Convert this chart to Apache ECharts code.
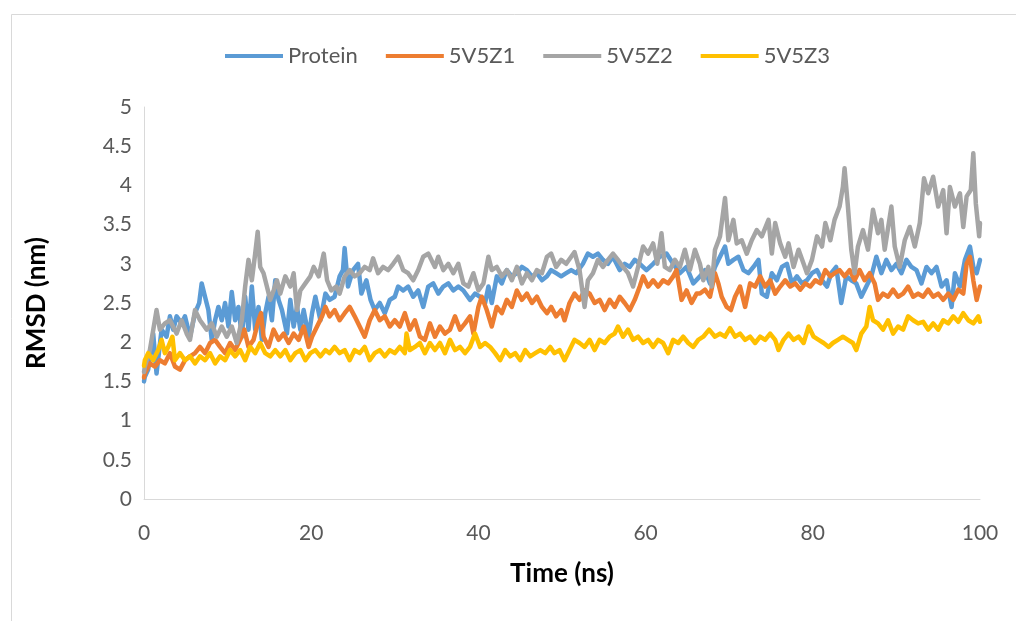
<!DOCTYPE html>
<html>
<head>
<meta charset="utf-8">
<script src="https://cdn.jsdelivr.net/npm/echarts@6/dist/echarts.min.js"></script>
<style>
html,body{margin:0;padding:0;background:#fff;}
#chart{width:1016px;height:621px;}
</style>
</head>
<body>
<div id="chart"></div>
<script>
const seriesNames = ['Protein', '5V5Z1', '5V5Z2', '5V5Z3'];
const seriesColors = ['#5B9BD5', '#ED7D31', '#A5A5A5', '#FFC000'];
const xTicks = [0, 20, 40, 60, 80, 100];

const protein = [[0,1.5],[0.1,1.56],[0.5,1.65],[1.1,2.11],[1.5,1.6],[2.1,2.16],[2.7,2.07],[3.1,2.33],[3.5,2.16],[3.9,2.33],[4.5,2.24],[4.9,2.33],[5.5,2.07],[6.1,2.37],[6.6,2.5],[6.9,2.75],[7.3,2.58],[7.7,2.41],[8.1,2.03],[8.5,2.28],[8.9,2.45],[9.3,2.28],[9.7,2.5],[10.1,2.2],[10.5,2.64],[10.9,2.28],[11.3,2.45],[11.7,2.07],[12.1,2.58],[12.5,2.16],[12.9,2.71],[13.3,2.16],[13.7,2.45],[14.1,2.03],[14.5,2.37],[14.9,2.58],[15.3,2.28],[15.7,2.79],[16.1,2.54],[16.5,2.41],[17.1,2.11],[17.5,2.54],[17.9,2.2],[18.3,2.45],[18.7,2.16],[19.1,2.41],[19.7,2.07],[20.1,2.37],[20.5,2.58],[21.1,2.28],[21.7,2.62],[22.2,2.54],[22.8,2.58],[23.4,2.84],[23.8,2.92],[24.0,3.2],[24.4,2.71],[25.0,2.92],[25.6,3.0],[26.0,2.62],[26.6,2.79],[27.1,2.54],[27.6,2.41],[28.2,2.5],[28.8,2.37],[29.4,2.54],[30.0,2.58],[30.4,2.71],[31.0,2.66],[31.6,2.71],[32.2,2.58],[32.8,2.66],[33.4,2.45],[34.0,2.71],[34.6,2.75],[35.2,2.62],[35.8,2.71],[36.4,2.75],[37.0,2.66],[37.6,2.71],[38.2,2.66],[39.0,2.54],[39.6,2.62],[40.2,2.58],[40.8,2.5],[41.2,2.71],[41.6,2.5],[42.2,2.84],[42.8,2.75],[43.4,2.92],[44.0,2.84],[44.6,2.88],[45.2,2.96],[45.8,2.92],[46.4,2.84],[47.0,2.88],[47.6,2.79],[48.2,2.84],[48.7,2.92],[49.3,2.88],[49.9,2.84],[50.5,2.88],[51.1,2.92],[51.7,2.88],[52.5,3.0],[53.1,3.13],[53.7,3.09],[54.3,3.13],[54.9,3.05],[55.5,3.0],[56.1,3.09],[56.9,2.92],[57.5,3.0],[58.1,2.96],[58.7,3.05],[59.3,3.0],[60.1,2.92],[60.9,3.0],[61.7,3.09],[62.5,3.13],[63.3,3.0],[64.1,2.88],[64.9,2.96],[65.7,2.75],[66.5,2.84],[67.1,2.92],[67.7,2.75],[68.3,2.96],[68.9,3.09],[69.5,3.22],[69.9,3.0],[70.5,3.05],[71.1,3.09],[71.7,2.92],[72.3,2.88],[72.9,2.96],[73.5,3.05],[73.9,2.62],[74.5,2.58],[75.1,2.88],[75.7,2.79],[76.3,2.96],[76.9,3.0],[77.5,2.75],[78.1,2.84],[78.7,2.75],[79.3,2.79],[79.9,2.88],[80.5,2.92],[81.1,2.79],[81.7,2.71],[82.2,2.88],[82.8,2.96],[83.4,2.5],[84.0,2.84],[84.6,2.79],[85.2,2.75],[85.8,2.58],[86.4,2.71],[87.0,2.84],[87.6,3.09],[88.2,2.88],[88.8,3.05],[89.4,2.92],[90.0,3.0],[90.6,2.88],[91.2,3.05],[91.8,2.96],[92.4,2.92],[93.0,2.75],[93.6,2.96],[94.2,2.88],[94.8,2.96],[95.4,2.71],[96.0,2.79],[96.6,2.45],[97.0,2.88],[97.6,2.71],[98.2,3.05],[98.8,3.22],[99.2,2.96],[99.6,2.88],[100,3.05]];

const z1 = [[0,1.55],[0.1,1.6],[0.7,1.73],[1.3,1.69],[1.9,1.77],[2.5,1.73],[3.1,1.86],[3.7,1.69],[4.3,1.65],[4.9,1.77],[5.5,1.82],[6.1,1.86],[6.7,1.94],[7.3,1.86],[7.9,1.99],[8.5,2.03],[9.1,1.94],[9.7,1.86],[10.3,1.99],[10.9,1.9],[11.5,2.03],[12.0,2.16],[12.5,1.94],[13.1,2.03],[13.7,2.28],[14.0,2.37],[14.3,2.07],[14.9,1.94],[15.5,2.16],[16.1,2.03],[16.7,2.11],[17.3,1.99],[17.9,2.11],[18.5,2.03],[19.1,2.2],[19.7,1.94],[20.1,2.07],[20.7,2.2],[21.3,2.33],[21.7,2.45],[22.2,2.33],[22.8,2.41],[23.4,2.28],[24.0,2.37],[24.6,2.45],[25.2,2.33],[25.8,2.2],[26.4,2.07],[27.0,2.28],[27.6,2.41],[28.2,2.28],[28.8,2.33],[29.4,2.2],[30.0,2.28],[30.6,2.2],[31.2,2.37],[31.8,2.16],[32.4,2.28],[33.0,2.07],[33.6,2.03],[34.2,2.24],[34.8,2.07],[35.4,2.2],[36.0,2.11],[36.6,2.16],[37.2,2.33],[37.8,2.16],[38.4,2.24],[39.0,2.33],[39.4,2.11],[40.0,2.45],[40.4,2.58],[41.0,2.41],[41.6,2.2],[42.2,2.45],[42.8,2.37],[43.4,2.54],[44.0,2.45],[44.6,2.66],[45.2,2.54],[45.8,2.62],[46.4,2.5],[47.0,2.58],[47.6,2.45],[48.2,2.37],[48.7,2.45],[49.3,2.33],[49.9,2.41],[50.3,2.28],[50.9,2.5],[51.5,2.62],[52.1,2.54],[52.7,2.66],[53.3,2.62],[53.9,2.5],[54.5,2.54],[55.1,2.41],[55.7,2.54],[56.3,2.45],[56.9,2.58],[57.5,2.5],[58.1,2.41],[58.7,2.54],[59.3,2.71],[59.7,2.84],[60.3,2.71],[60.9,2.79],[61.5,2.71],[62.1,2.79],[62.7,2.75],[63.3,2.84],[63.7,2.92],[64.3,2.54],[64.9,2.66],[65.5,2.5],[66.1,2.62],[66.5,2.62],[67.1,2.67],[67.7,2.58],[68.3,2.88],[68.7,2.75],[69.1,2.58],[69.7,2.45],[70.2,2.41],[70.7,2.58],[71.3,2.71],[71.9,2.45],[72.5,2.75],[73.1,2.71],[73.7,2.84],[74.3,2.71],[74.9,2.79],[75.5,2.62],[76.1,2.71],[76.7,2.79],[77.3,2.71],[77.9,2.75],[78.5,2.67],[79.1,2.75],[79.7,2.71],[80.3,2.79],[80.9,2.75],[81.5,2.92],[82.1,2.84],[82.6,2.88],[83.2,2.92],[83.8,2.84],[84.4,2.92],[85.0,2.79],[85.6,2.92],[86.2,2.79],[86.8,2.88],[87.4,2.75],[87.8,2.54],[88.4,2.62],[89.0,2.58],[89.6,2.67],[90.2,2.58],[90.8,2.62],[91.4,2.71],[92.0,2.58],[92.6,2.62],[93.2,2.58],[93.8,2.67],[94.4,2.58],[95.0,2.62],[95.6,2.54],[96.2,2.62],[96.8,2.54],[97.4,2.67],[98.0,2.62],[98.4,3.0],[98.8,3.09],[99.2,2.79],[99.6,2.54],[100,2.71]];

const z2 = [[0,1.62],[0.1,1.69],[0.7,1.9],[1.5,2.41],[1.9,2.16],[2.5,2.24],[3.1,2.28],[3.9,2.11],[4.5,2.28],[5.1,2.11],[5.5,2.03],[6.1,2.41],[6.7,2.28],[7.5,2.16],[8.1,2.24],[8.7,2.07],[9.3,2.2],[9.9,2.07],[10.5,2.2],[11.1,1.99],[11.7,2.28],[12.1,2.71],[12.5,3.05],[12.9,2.79],[13.3,3.13],[13.6,3.41],[13.9,2.96],[14.3,2.88],[14.7,2.71],[15.1,2.54],[15.5,2.66],[15.9,2.79],[16.3,2.62],[16.9,2.84],[17.5,2.71],[17.9,2.88],[18.3,2.41],[18.7,2.66],[19.3,2.75],[19.9,2.84],[20.3,2.96],[20.9,2.84],[21.5,3.13],[21.9,2.79],[22.4,2.66],[23.0,2.71],[23.4,2.62],[24.0,2.84],[24.6,2.92],[25.2,2.84],[25.8,2.88],[26.4,2.96],[27.0,2.92],[27.4,3.07],[28.0,2.88],[28.6,2.96],[29.2,2.92],[29.8,3.0],[30.4,3.09],[31.0,2.92],[31.6,2.88],[32.2,2.79],[32.8,2.92],[33.4,3.09],[34.0,3.13],[34.8,2.96],[35.2,3.09],[35.8,2.92],[36.4,3.0],[37.0,2.88],[37.6,3.0],[38.2,2.75],[38.8,2.71],[39.4,2.88],[40.0,2.66],[40.6,2.75],[41.2,3.09],[41.6,2.92],[42.2,2.96],[42.8,2.84],[43.4,2.92],[44.0,2.79],[44.6,2.96],[45.2,2.75],[45.8,2.88],[46.4,2.79],[47.0,2.92],[47.6,2.88],[48.2,3.09],[48.7,3.13],[49.3,2.96],[49.9,3.05],[50.5,3.0],[51.1,3.09],[51.5,3.15],[52.1,2.92],[52.7,2.45],[53.1,2.79],[53.7,2.88],[54.3,3.05],[54.9,2.96],[55.5,3.05],[56.1,3.13],[56.7,3.05],[57.3,2.96],[57.9,2.88],[58.5,2.71],[59.1,2.96],[59.7,3.22],[60.3,3.13],[60.9,3.26],[61.4,3.0],[61.9,3.39],[62.3,2.96],[62.9,2.92],[63.5,3.05],[64.1,2.96],[64.7,3.18],[65.3,2.92],[65.9,3.18],[66.5,3.0],[66.9,2.79],[67.5,2.96],[67.9,2.71],[68.3,3.18],[68.9,3.35],[69.5,3.84],[69.9,3.3],[70.5,3.56],[70.9,3.26],[71.5,3.3],[72.1,3.13],[72.7,3.3],[73.3,3.43],[73.9,3.35],[74.7,3.56],[75.1,3.13],[75.5,3.52],[76.1,3.26],[76.7,3.09],[77.1,3.26],[77.7,2.96],[78.3,3.18],[78.9,3.0],[79.3,2.88],[79.9,3.05],[80.5,3.35],[81.1,3.22],[81.5,3.52],[82.1,3.3],[82.6,3.56],[83.2,3.73],[83.6,3.98],[83.8,4.22],[84.2,3.73],[84.6,3.18],[85.0,2.88],[85.4,3.22],[86.0,3.43],[86.6,3.18],[87.2,3.69],[87.8,3.39],[88.2,3.56],[88.6,3.18],[89.4,3.73],[89.8,3.22],[90.4,2.96],[91.0,3.3],[91.6,3.47],[92.2,3.22],[92.8,3.52],[93.3,4.09],[93.8,3.9],[94.4,4.11],[95.0,3.73],[95.6,3.94],[96.0,3.39],[96.4,3.98],[97.0,3.73],[97.6,3.9],[98.0,3.47],[98.4,3.86],[98.9,3.94],[99.2,4.41],[99.5,3.77],[99.9,3.35],[100,3.52]];

const z3 = [[0,1.7],[0.1,1.77],[0.5,1.86],[1.1,1.77],[1.7,1.9],[2.1,2.03],[2.5,1.86],[2.9,1.94],[3.4,2.07],[3.7,1.77],[4.3,1.86],[4.9,1.77],[5.5,1.82],[6.1,1.73],[6.7,1.82],[7.3,1.77],[7.9,1.86],[8.5,1.73],[9.1,1.82],[9.7,1.77],[10.3,1.9],[10.9,1.82],[11.5,1.9],[12.1,1.77],[12.7,1.94],[13.3,1.86],[13.9,1.99],[14.5,1.86],[15.1,1.82],[15.7,1.9],[16.3,1.82],[16.9,1.9],[17.5,1.77],[18.1,1.86],[18.7,1.9],[19.3,1.77],[19.9,1.86],[20.5,1.9],[21.1,1.82],[21.7,1.9],[22.2,1.86],[22.8,1.94],[23.4,1.86],[24.0,1.9],[24.6,1.77],[25.2,1.9],[25.8,1.86],[26.4,1.94],[27.0,1.77],[27.6,1.86],[28.2,1.9],[28.8,1.82],[29.4,1.9],[30.0,1.86],[30.6,1.94],[31.2,1.86],[31.4,2.11],[31.8,1.9],[32.4,1.94],[33.0,1.99],[33.6,1.86],[34.2,1.99],[34.8,1.9],[35.4,1.99],[36.0,1.86],[36.6,2.03],[37.2,1.9],[37.8,1.94],[38.4,1.86],[39.0,1.94],[39.6,2.11],[40.2,1.94],[40.8,1.99],[41.4,1.94],[42.0,1.86],[42.6,1.77],[43.2,1.9],[43.8,1.82],[44.4,1.86],[45.0,1.77],[45.6,1.9],[46.2,1.82],[46.8,1.86],[47.4,1.9],[48.0,1.86],[48.6,1.94],[49.1,1.86],[49.7,1.9],[50.3,1.77],[50.9,1.9],[51.5,2.03],[52.1,1.99],[52.7,1.94],[53.3,2.03],[53.9,1.9],[54.5,2.03],[55.1,1.99],[55.7,2.07],[56.3,2.11],[56.7,2.2],[57.3,2.07],[57.9,2.16],[58.5,2.03],[59.1,2.07],[59.7,1.99],[60.3,2.03],[60.9,1.94],[61.5,2.03],[62.1,1.99],[62.7,1.86],[63.3,2.03],[63.9,1.99],[64.5,2.07],[65.1,1.99],[65.7,1.94],[66.3,2.03],[66.9,2.07],[67.6,2.16],[68.3,2.07],[68.9,2.11],[69.5,2.07],[70.1,2.18],[70.7,2.07],[71.3,2.11],[71.9,2.03],[72.5,2.07],[73.1,1.99],[73.7,2.07],[74.3,2.03],[74.9,2.11],[75.5,2.03],[75.9,1.9],[76.5,2.03],[77.1,2.11],[77.7,2.03],[78.3,2.07],[78.9,1.99],[79.5,2.2],[80.1,2.07],[80.7,2.03],[81.3,1.99],[81.9,1.94],[82.4,1.99],[83.0,2.03],[83.6,2.07],[84.2,2.03],[84.8,1.99],[85.2,1.9],[85.8,2.11],[86.4,2.2],[86.8,2.45],[87.2,2.28],[87.8,2.24],[88.4,2.16],[89.0,2.28],[89.6,2.11],[90.2,2.2],[90.8,2.16],[91.4,2.33],[92.0,2.28],[92.6,2.24],[93.2,2.26],[93.8,2.16],[94.4,2.24],[95.0,2.16],[95.6,2.28],[96.2,2.24],[96.8,2.33],[97.4,2.26],[98.0,2.37],[98.6,2.28],[99.2,2.24],[99.8,2.33],[100,2.26]];

const seriesData = [protein, z1, z2, z3];

const font = 'Lato, "Open Sans", "DejaVu Sans", sans-serif';
const chart = echarts.init(document.getElementById('chart'), null, {renderer: 'canvas'});
chart.setOption({
  animation: false,
  backgroundColor: '#ffffff',
  graphic: [{
    type: 'rect', left: 9, top: 12, silent: true,
    shape: {width: 1100, height: 700},
    style: {fill: 'none', stroke: '#d9d9d9', lineWidth: 1}
  }],
  legend: {
    top: 40, left: 220,
    itemWidth: 58, itemHeight: 4, itemGap: 28,
    icon: 'rect',
    textStyle: {fontFamily: font, fontSize: 22, color: '#595959'},
    data: seriesNames
  },
  grid: {left: 144, right: 36, top: 107, bottom: 122, containLabel: false},
  xAxis: {
    type: 'value', min: 0, max: 100, interval: 20,
    name: 'Time (ns)', nameLocation: 'middle', nameGap: 62,
    nameTextStyle: {fontFamily: font, fontSize: 26, fontWeight: 'bold', color: '#000'},
    axisLine: {show: true, lineStyle: {color: '#d9d9d9', width: 1}},
    axisTick: {show: false},
    splitLine: {show: false},
    axisLabel: {fontFamily: font, fontSize: 21, color: '#595959', margin: 24,
      formatter: v => xTicks.includes(v) ? String(v) : ''}
  },
  yAxis: {
    type: 'value', min: 0, max: 5, interval: 0.5,
    name: 'RMSD (nm)', nameLocation: 'middle', nameGap: 94,
    nameTextStyle: {fontFamily: font, fontSize: 26, fontWeight: 'bold', color: '#000'},
    axisLine: {show: true, lineStyle: {color: '#d9d9d9', width: 1}},
    axisTick: {show: false},
    splitLine: {show: false},
    axisLabel: {fontFamily: font, fontSize: 21, color: '#595959', margin: 12}
  },
  series: seriesNames.map((n, i) => ({
    name: n, type: 'line', data: seriesData[i],
    showSymbol: false, symbol: 'none',
    lineStyle: {color: seriesColors[i], width: 4.5, join: 'round', cap: 'round'},
    itemStyle: {color: seriesColors[i]},
    z: 2 + i
  }))
});
</script>
</body>
</html>
